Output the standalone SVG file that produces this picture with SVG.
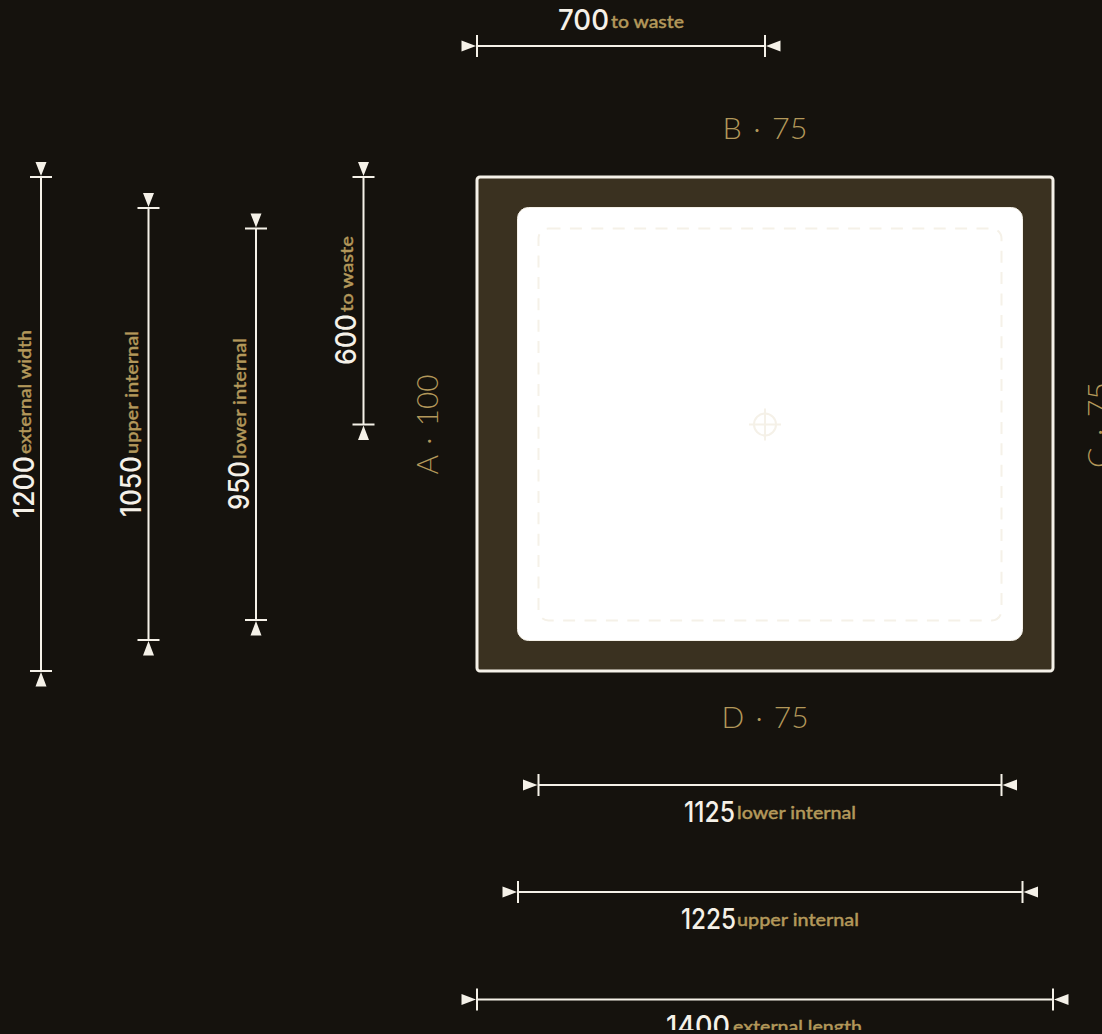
<svg xmlns="http://www.w3.org/2000/svg" width="1102" height="1034" viewBox="0 0 1102 1034">
<style>
.ln{stroke:#f5f1e8;stroke-width:2;fill:none}
.tk{stroke:#f5f1e8;stroke-width:2;fill:none}
.ah{fill:#f5f1e8}
.v{font-family:"Inter","Noto Sans",sans-serif;font-size:28px;font-weight:500;fill:#f5f1e8}
.u{font-family:"Lato","Noto Sans",sans-serif;font-size:18px;font-weight:500;fill:#b3985a;stroke:#b3985a;stroke-width:.4px}
.s{font-family:"Lato","Liberation Sans",sans-serif;font-size:29px;font-weight:300;fill:#b3985a;word-spacing:3px}
</style>
<defs>
<clipPath id="cut"><rect x="0" y="0" width="1102" height="1030"/></clipPath>
</defs>
<rect width="1102" height="1034" fill="#15120d"/>
<g id="basin">
<rect x="477" y="177" width="576" height="494" rx="3" fill="#3a3120" stroke="#f5f1e8" stroke-width="3"/>
<rect x="517.500" y="207.500" width="505" height="433" rx="11" fill="#fff" stroke="#f5f1e8" stroke-width="1"/>
<rect x="538.500" y="228.500" width="463" height="392" rx="10" fill="none" stroke="#f5f1e8" stroke-width="2" stroke-dasharray="12 9.400"/>
<g id="waste" fill="none" stroke="#f5f1e8" stroke-width="2"><circle cx="765" cy="424.500" r="11"/><path d="M749 424.500H781M765 408.500V440.500"/></g>
</g>
<g id="side-labels">
<text class="s" x="765" y="139" text-anchor="middle" textLength="85" lengthAdjust="spacingAndGlyphs">B · 75</text>
<text class="s" x="765" y="728" text-anchor="middle" textLength="87" lengthAdjust="spacingAndGlyphs">D · 75</text>
<text class="s" transform="translate(438 424.500) rotate(-90)" text-anchor="middle" textLength="100" lengthAdjust="spacingAndGlyphs">A · 100</text>
<text class="s" transform="translate(1109 425) rotate(-90)" text-anchor="middle" textLength="86" lengthAdjust="spacingAndGlyphs">C · 75</text>
</g>
<g id="connectors">
<path class="ln" d="M477 46H765M538.500 785H1001.500M518 892H1022.500M477 999.500H1053M41 177V671M148.500 208V640M256 228.500V620M363.500 177V424.500"/>
<path class="tk" d="M477 35V57M765 35V57M538.500 774V796M1001.500 774V796M518 881V903M1022.500 881V903M477 988.500V1010.500M1053 988.500V1010.500M30 177H52M137.500 208H159.500M245 228.500H267M352.500 177H374.500M352.500 424.500H374.500M30 671H52M137.500 640H159.500M245 620H267"/>
<g class="ah">
<path d="M461.500 40.500L476 46L461.500 51.500ZM780.500 40.500L766 46L780.500 51.500Z"/>
<path d="M523 779.500L537.500 785L523 790.500ZM1017 779.500L1002.500 785L1017 790.500Z"/>
<path d="M502.500 886.500L517 892L502.500 897.500ZM1038 886.500L1023.500 892L1038 897.500Z"/>
<path d="M461.500 994L476 999.500L461.500 1005ZM1068.500 994L1054 999.500L1068.500 1005Z"/>
<path d="M35.500 162L41 176L46.500 162ZM35.500 686.500L41 672L46.500 686.500Z"/>
<path d="M143 193L148.500 207L154 193ZM143 655.500L148.500 641L154 655.500Z"/>
<path d="M250.500 213.500L256 227.500L261.500 213.500ZM250.500 635.500L256 621L261.500 635.500Z"/>
<path d="M358 162L363.500 176L369 162ZM358 440L363.500 425.500L369 440Z"/>
</g>
</g>
<g id="dim-labels">
<text class="v" x="558" y="30" textLength="51" lengthAdjust="spacingAndGlyphs">700</text><text class="u" x="611" y="28" textLength="73" lengthAdjust="spacingAndGlyphs">to waste</text>
<text class="v" x="684" y="822" textLength="51" lengthAdjust="spacingAndGlyphs">1125</text><text class="u" x="737" y="819" textLength="119" lengthAdjust="spacingAndGlyphs">lower internal</text>
<text class="v" x="681" y="929" textLength="55" lengthAdjust="spacingAndGlyphs">1225</text><text class="u" x="737" y="926" textLength="122" lengthAdjust="spacingAndGlyphs">upper internal</text>
<g clip-path="url(#cut)"><text class="v" x="666" y="1036" textLength="64" lengthAdjust="spacingAndGlyphs">1400</text><text class="u" x="733" y="1033" textLength="129" lengthAdjust="spacingAndGlyphs">external length</text></g>
<text class="v" transform="translate(34 518) rotate(-90)" textLength="62" lengthAdjust="spacingAndGlyphs">1200</text><text class="u" transform="translate(31 454) rotate(-90)" textLength="124" lengthAdjust="spacingAndGlyphs">external width</text>
<text class="v" transform="translate(141 517) rotate(-90)" textLength="61" lengthAdjust="spacingAndGlyphs">1050</text><text class="u" transform="translate(138 454) rotate(-90)" textLength="123" lengthAdjust="spacingAndGlyphs">upper internal</text>
<text class="v" transform="translate(249 510) rotate(-90)" textLength="49" lengthAdjust="spacingAndGlyphs">950</text><text class="u" transform="translate(246 459) rotate(-90)" textLength="121" lengthAdjust="spacingAndGlyphs">lower internal</text>
<text class="v" transform="translate(356 365) rotate(-90)" textLength="51" lengthAdjust="spacingAndGlyphs">600</text><text class="u" transform="translate(353 312) rotate(-90)" textLength="76" lengthAdjust="spacingAndGlyphs">to waste</text>
</g>
</svg>
